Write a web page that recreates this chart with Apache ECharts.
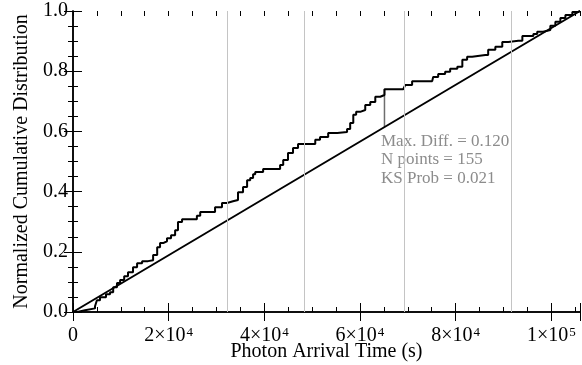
<!DOCTYPE html>
<html><head><meta charset="utf-8">
<script src="https://cdn.jsdelivr.net/npm/echarts@6/dist/echarts.min.js"></script>
<style>html,body{margin:0;padding:0;background:#fff}#c{width:582px;height:365px}</style>
</head><body><div id="c"></div>
<script>
// Cumulative distribution (step curve)
const stepTimes = [0,900,2500,4600,5000,5650,6900,7750,8400,9200,9850,10700,11500,12550,13400,14450,15700,16750,17600,18200,18850,19650,20500,21350,21950,22800,25100,25900,26600,28900,29700,31150,32200,33450,34500,35550,36400,37050,37650,38100,39750,41850,43300,43950,44950,46000,47050,50000,50650,51650,53350,55250,57300,57950,58600,59200,60050,61100,62150,63200,64250,65120,69050,69450,70900,75100,75300,76350,77800,78850,80350,81400,82400,83450,86200,86800,88300,89750,91000,93100,93950,96250,97050,98300,99800,100850,101900,102950,104400,105650,106000];
const stepValues = [0,0.006,0.012,0.019,0.039,0.049,0.059,0.066,0.082,0.096,0.106,0.119,0.132,0.149,0.162,0.169,0.172,0.189,0.215,0.229,0.235,0.245,0.255,0.272,0.299,0.308,0.308,0.320,0.332,0.332,0.348,0.362,0.368,0.372,0.398,0.415,0.438,0.445,0.458,0.465,0.475,0.475,0.488,0.505,0.528,0.545,0.558,0.558,0.572,0.581,0.595,0.598,0.608,0.628,0.655,0.665,0.671,0.688,0.698,0.715,0.721,0.740,0.740,0.754,0.767,0.767,0.781,0.791,0.798,0.808,0.815,0.838,0.848,0.854,0.854,0.871,0.881,0.897,0.901,0.901,0.917,0.924,0.931,0.937,0.951,0.964,0.977,0.987,0.997,1.0,1.0];
// Uniform model (diagonal)
const diagTimes = [0, 106000];
const diagValues = [0, 1];
// Grey vertical markers
const windowTimes = [32150, 48260, 69180, 91630];
// Max difference segment
const maxDiffTime = 65120;
const maxDiffValues = [0.614, 0.740];
// Axes
const xMin = 0, xMax = 106000;
const xTickValues = [0, 20000, 40000, 60000, 80000, 100000];
const xTickMantissa = ['0', '2', '4', '6', '8', '1'];
const xTickExponent = ['', '4', '4', '4', '4', '5'];
const yTickValues = [0, 0.2, 0.4, 0.6, 0.8, 1.0];
const yTickLabels = ['0.0', '0.2', '0.4', '0.6', '0.8', '1.0'];
const xTitle = 'Photon Arrival Time (s)';
const yTitle = 'Normalized Cumulative Distribution';
const statLines = ['Max. Diff. = 0.120', 'N points = 155', 'KS Prob = 0.021'];

const FONT = '"Liberation Serif", "Times New Roman", serif';
const chart = echarts.init(document.getElementById('c'), null, {renderer: 'canvas'});

function xAxisDef(pos, major) {
  return {
    type: 'value', position: pos, min: xMin, max: xMax,
    interval: major ? 20000 : 5000,
    axisLine: {show: major, lineStyle: {color: '#000', width: 1.5}},
    axisTick: {show: true, inside: true, length: major ? 9 : 5, lineStyle: {color: '#000', width: 1}},
    splitLine: {show: false},
    axisLabel: (major && pos === 'bottom') ? {
      show: true, margin: 14, fontFamily: FONT, color: '#000',
      formatter: function (v) {
        const i = xTickValues.indexOf(v);
        if (i < 0) return '';
        return xTickExponent[i] ? '{b|' + xTickMantissa[i] + '×10}{s|' + xTickExponent[i] + '}' : '{b|' + xTickMantissa[i] + '}';
      },
      rich: {
        b: {fontSize: 20, fontFamily: FONT, color: '#000', verticalAlign: 'top', lineHeight: 20},
        s: {fontSize: 13, fontFamily: FONT, color: '#000', verticalAlign: 'top', lineHeight: 20, padding: [0, 0, 4, 1]}
      }
    } : {show: false},
    name: (major && pos === 'bottom') ? xTitle : '',
    nameLocation: 'middle', nameGap: 30, nameMoveOverlap: false,
    nameTextStyle: {fontFamily: FONT, fontSize: 20, color: '#000'}
  };
}
function yAxisDef(pos) {
  const left = pos === 'left';
  return {
    type: 'value', position: pos, min: 0, max: 1, interval: 0.2,
    axisLine: {show: true, lineStyle: {color: '#000', width: 1.5}},
    axisTick: {show: true, inside: true, length: 9, lineStyle: {color: '#000', width: 1}},
    minorTick: {show: true, splitNumber: 4, length: 5, lineStyle: {color: '#000', width: 1}},
    splitLine: {show: false}, minorSplitLine: {show: false},
    axisLabel: left ? {
      show: true, margin: 5, fontFamily: FONT, fontSize: 20, color: '#000',
      formatter: function (v) {
        const i = yTickValues.findIndex(t => Math.abs(t - v) < 1e-9);
        return i < 0 ? '' : yTickLabels[i];
      }
    } : {show: false},
    name: left ? yTitle : '',
    nameLocation: 'middle', nameGap: 41, nameRotate: 90, nameMoveOverlap: false,
    nameTextStyle: {fontFamily: FONT, fontSize: 20, color: '#000'}
  };
}

const stepData = stepTimes.map((t, i) => [t, stepValues[i]]);
const diagData = diagTimes.map((t, i) => [t, diagValues[i]]);

chart.setOption({
  animation: false,
  backgroundColor: '#fff',
  grid: {left: 73, right: 2, top: 11, bottom: 53, containLabel: false, outerBoundsMode: 'none'},
  xAxis: [xAxisDef('bottom', true), xAxisDef('top', true), xAxisDef('bottom', false), xAxisDef('top', false)],
  yAxis: [yAxisDef('left'), yAxisDef('right')],
  series: [
    {
      type: 'line', xAxisIndex: 0, yAxisIndex: 0, data: [], silent: true,
      markLine: {
        silent: true, symbol: 'none', label: {show: false},
        lineStyle: {color: '#c4c4c4', width: 1, type: 'solid'},
        data: windowTimes.map(t => ({xAxis: t}))
      }
    },
    {
      type: 'line', xAxisIndex: 0, yAxisIndex: 0, showSymbol: false, silent: true,
      lineStyle: {color: '#6e6e6e', width: 1.5},
      data: maxDiffValues.map(v => [maxDiffTime, v])
    },
    {
      type: 'line', xAxisIndex: 0, yAxisIndex: 0, showSymbol: false, silent: true,
      lineStyle: {color: '#000', width: 2},
      data: diagData
    },
    {
      type: 'line', xAxisIndex: 0, yAxisIndex: 0, showSymbol: false, silent: true, step: 'end',
      lineStyle: {color: '#000', width: 2},
      data: stepData
    }
  ],
  graphic: [{
    type: 'text', left: 381, top: 132, silent: true,
    style: {text: statLines.join('\n'), fontFamily: FONT, fontSize: 17, lineHeight: 18.5, fill: '#8c8c8c'}
  }]
});
</script>
</body></html>
